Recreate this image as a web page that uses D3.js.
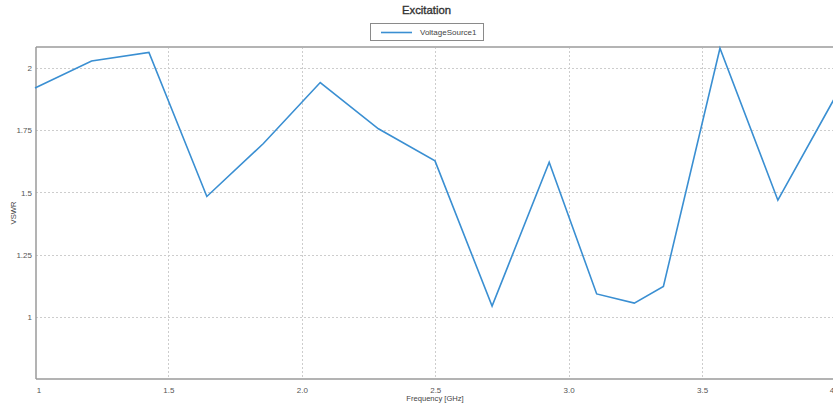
<!DOCTYPE html>
<html>
<head>
<meta charset="utf-8">
<script src="https://cdn.jsdelivr.net/npm/d3@7"></script>
<style>
  html, body { margin: 0; padding: 0; background: #fff; overflow: hidden; }
  svg { display: block; font-family: "Liberation Sans", Arial, sans-serif; }
</style>
</head>
<body>
<svg id="chart" width="833" height="407"></svg>
<script>
// ---- data ----
const frequencyGHz = [1.0, 1.212, 1.427, 1.644, 1.856, 2.069, 2.287, 2.499, 2.713, 2.927, 3.105, 3.246, 3.355, 3.567, 3.784, 4.0];
const vswr = [1.920, 2.029, 2.063, 1.484, 1.697, 1.942, 1.756, 1.627, 1.043, 1.622, 1.092, 1.055, 1.122, 2.080, 1.469, 1.886];
const xTickValues = [1, 1.5, 2, 2.5, 3, 3.5, 4];
const xTickLabels = ["1", "1.5", "2.0", "2.5", "3.0", "3.5", "4"];
const yTickValues = [1, 1.25, 1.5, 1.75, 2];
const yTickLabels = ["1", "1.25", "1.5", "1.75", "2"];
const seriesName = "VoltageSource1";
const chartTitle = "Excitation";
const xTitle = "Frequency [GHz]";
const yTitle = "VSWR";

// ---- layout ----
const svg = d3.select("#chart");
const pLeft = 36, pTop = 47, pBottom = 379, pRight = 836;
const x = d3.scaleLinear().domain([1, 4]).range([35, 835.5]);
const y = d3.scaleLinear().domain([0.75, 2.085]).range([pBottom, pTop]);

// grid
const grid = svg.append("g");
grid.selectAll("line.gx").data(xTickValues.slice(1, -1)).enter().append("line")
  .attr("x1", d => Math.round(x(d)) + 0.5).attr("x2", d => Math.round(x(d)) + 0.5)
  .attr("y1", pTop).attr("y2", pBottom)
  .attr("stroke", "#cdcdcd").attr("stroke-width", 1).attr("stroke-dasharray", "2,2");
grid.selectAll("line.gy").data(yTickValues).enter().append("line")
  .attr("x1", pLeft).attr("x2", pRight)
  .attr("y1", d => Math.round(y(d)) + 0.5).attr("y2", d => Math.round(y(d)) + 0.5)
  .attr("stroke", "#cdcdcd").attr("stroke-width", 1).attr("stroke-dasharray", "2,2");

// frame
svg.append("line").attr("x1", pLeft).attr("x2", pRight).attr("y1", pTop).attr("y2", pTop)
  .attr("stroke", "#b4b4b4").attr("stroke-width", 2);
svg.append("line").attr("x1", pLeft).attr("x2", pLeft).attr("y1", pTop).attr("y2", pBottom)
  .attr("stroke", "#9a9a9a").attr("stroke-width", 1.5);
svg.append("line").attr("x1", pLeft).attr("x2", pRight).attr("y1", pBottom).attr("y2", pBottom)
  .attr("stroke", "#9a9a9a").attr("stroke-width", 1.5);

// x axis labels
const xAxis = d3.axisBottom(x).tickValues(xTickValues)
  .tickFormat((d, i) => xTickLabels[i]).tickSize(0).tickPadding(8);
const gx = svg.append("g").attr("transform", `translate(0,${pBottom})`).call(xAxis);
gx.select(".domain").remove();
gx.selectAll("text").attr("fill", "#555").style("font-size", "8px")
  .attr("dx", (d, i) => i === 0 ? 3.5 : (i === xTickValues.length - 1 ? -4 : 0));

// y axis labels
const yAxis = d3.axisLeft(y).tickValues(yTickValues)
  .tickFormat((d, i) => yTickLabels[i]).tickSize(0).tickPadding(4);
const gy = svg.append("g").attr("transform", `translate(${pLeft},0)`).call(yAxis);
gy.select(".domain").remove();
gy.selectAll("text").attr("fill", "#555").style("font-size", "8px");

// series line
const line = d3.line().x((d, i) => x(frequencyGHz[i])).y(d => y(d));
svg.append("path").datum(vswr)
  .attr("fill", "none").attr("stroke", "#3a8fd2").attr("stroke-width", 1.6)
  .attr("stroke-linejoin", "miter").attr("d", line);

// titles
svg.append("text").attr("x", 426.5).attr("y", 14).attr("text-anchor", "middle")
  .attr("fill", "#333").attr("stroke", "#333").attr("stroke-width", 0.35)
  .style("font-size", "11.3px").text(chartTitle);
svg.append("text").attr("x", 435).attr("y", 401).attr("text-anchor", "middle")
  .attr("fill", "#444").style("font-size", "7.6px").text(xTitle);
svg.append("text").attr("transform", "translate(16,213) rotate(-90)").attr("text-anchor", "middle")
  .attr("fill", "#444").style("font-size", "7.6px").text(yTitle);

// legend
const lg = svg.append("g");
lg.append("rect").attr("x", 370.5).attr("y", 23.5).attr("width", 113).attr("height", 17)
  .attr("fill", "#fff").attr("stroke", "#8a8a8a").attr("stroke-width", 1);
lg.append("line").attr("x1", 381).attr("x2", 412).attr("y1", 32.5).attr("y2", 32.5)
  .attr("stroke", "#3a8fd2").attr("stroke-width", 1.6);
lg.append("text").attr("x", 420).attr("y", 35.3).attr("fill", "#444")
  .style("font-size", "8px").text(seriesName);
</script>
</body>
</html>
